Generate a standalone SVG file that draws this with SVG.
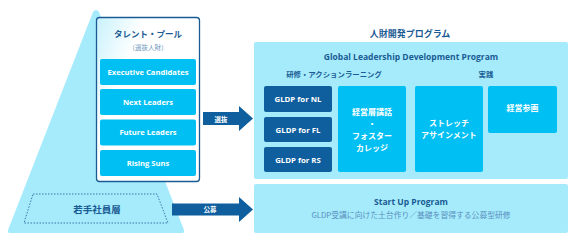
<svg xmlns="http://www.w3.org/2000/svg" width="576" height="241" viewBox="0 0 576 241">
<defs>
<linearGradient id="poolGrad" x1="0" y1="0" x2="1" y2="0.6">
<stop offset="0" stop-color="#c9f2fd"/>
<stop offset="0.35" stop-color="#ffffff"/>
<stop offset="1" stop-color="#ffffff"/>
</linearGradient>
<style>
.jp{font-family:"Noto Sans CJK JP","Noto Sans",sans-serif;font-weight:bold;text-anchor:middle}
.en{font-family:"Open Sans","Noto Sans",sans-serif;font-weight:bold;text-anchor:middle}
.reg{font-weight:normal}
.dk{fill:#1a5b93}
.wh{fill:#ffffff}
.cyan{fill:#00bff3}
.navy{fill:#0f5f9e}
.pale{fill:#a5ebfc}
</style>
</defs>
<rect width="576" height="241" fill="#ffffff"/>

<g id="pyramid">
<path d="M93,12 Q96,8 99,12 L184,230 Q185,233 182,233 L10,233 Q7,233 8,230 Z" class="pale"/>
</g>

<g id="young-staff">
<path d="M33,194 L157,194 L168,223 L24,223 Z" fill="none" stroke="#1a5b93" stroke-width="0.8" stroke-dasharray="1.5,1.5"/>
<text x="97" y="213" class="jp dk" font-size="9.5">若手社員層</text>
</g>

<g id="talent-pool">
<rect x="96.5" y="17.5" width="103" height="164" rx="3" fill="url(#poolGrad)" stroke="#1a5b93" stroke-width="1.3"/>
<text x="148" y="37" class="jp dk" font-size="8.5">タレント・プール</text>
<text x="148" y="50" class="jp reg" font-size="6.5" fill="#6d97bd">（選抜人財）</text>
</g>

<g id="executive-candidates">
<rect x="100" y="59" width="96" height="26" rx="2" class="cyan"/>
<text x="148" y="74.5" class="en wh" font-size="7.6">Executive Candidates</text>
</g>
<g id="next-leaders">
<rect x="100" y="89" width="96" height="26" rx="2" class="cyan"/>
<text x="148" y="105" class="en wh" font-size="7.6">Next Leaders</text>
</g>
<g id="future-leaders">
<rect x="100" y="119.5" width="96" height="26" rx="2" class="cyan"/>
<text x="148" y="135" class="en wh" font-size="7.6">Future Leaders</text>
</g>
<g id="rising-suns">
<rect x="100" y="150" width="96" height="26" rx="2" class="cyan"/>
<text x="148" y="166" class="en wh" font-size="7.6">Rising Suns</text>
</g>

<g id="connectors">
<path d="M203,112 L239,112 L239,106 L253,118.5 L239,131 L239,125 L203,125 Z" class="navy"/>
<text x="221" y="121.5" class="jp wh" font-size="6.5">選抜</text>
<path d="M172,203.5 L239,203.5 L239,197 L253,209.5 L239,222 L239,215.5 L172,215.5 Z" class="navy"/>
<text x="210" y="212" class="jp wh" font-size="6.5">公募</text>
</g>

<g id="program">
<text x="410" y="37" class="jp dk" font-size="9">人財開発プログラム</text>
<rect x="254" y="42" width="314" height="137" rx="2" class="pale"/>
<text x="411" y="59.5" class="en dk" font-size="8.5">Global Leadership Development Program</text>
<text x="334" y="77" class="jp dk" font-size="7.4">研修・アクションラーニング</text>
<text x="486" y="77" class="jp dk" font-size="7.4">実践</text>
</g>

<g id="gldp-nl">
<rect x="264" y="86" width="68" height="26" rx="2" class="navy"/>
<text x="298" y="102" class="en wh" font-size="7.8">GLDP for NL</text>
</g>
<g id="gldp-fl">
<rect x="264" y="117" width="68" height="25" rx="2" class="navy"/>
<text x="298" y="132.5" class="en wh" font-size="7.8">GLDP for FL</text>
</g>
<g id="gldp-rs">
<rect x="264" y="147" width="68" height="25" rx="2" class="navy"/>
<text x="298" y="162.5" class="en wh" font-size="7.8">GLDP for RS</text>
</g>

<g id="lecture-foster">
<rect x="338" y="86" width="68" height="86" rx="2" class="cyan"/>
<text x="372" y="115" class="jp wh" font-size="8">経営層講話</text>
<text x="372" y="127" class="jp wh" font-size="8">・</text>
<text x="372" y="139" class="jp wh" font-size="8">フォスター</text>
<text x="372" y="151" class="jp wh" font-size="8">カレッジ</text>
</g>

<g id="stretch">
<rect x="415" y="86" width="68" height="86" rx="2" class="cyan"/>
<text x="449" y="126" class="jp wh" font-size="8">ストレッチ</text>
<text x="449" y="138" class="jp wh" font-size="8">アサインメント</text>
</g>

<g id="management">
<rect x="488" y="86" width="69" height="47" rx="2" class="cyan"/>
<text x="522.5" y="111" class="jp wh" font-size="8">経営参画</text>
</g>

<g id="start-up">
<rect x="254" y="184" width="314" height="49" rx="2" class="pale"/>
<text x="411" y="205" class="en dk" font-size="8.5">Start Up Program</text>
<text x="411" y="218" class="jp reg" font-size="7.8" fill="#5a8fbc">GLDP受講に向けた土台作り／基礎を習得する公募型研修</text>
</g>
</svg>
